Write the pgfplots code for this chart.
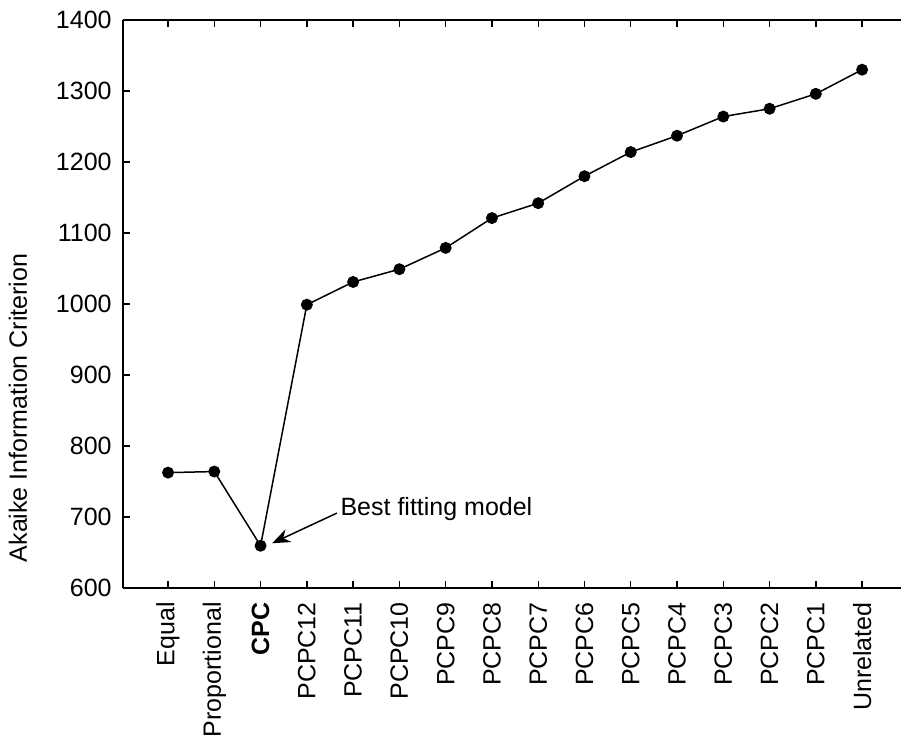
\documentclass[border=0pt]{standalone}
\usepackage{fontspec}
\setmainfont{Liberation Sans}
\usepackage{pgfplots}
\pgfplotsset{compat=1.18}
\usetikzlibrary{arrows.meta}
\newcommand{\chartfont}{\fontsize{12.5}{15}\selectfont}
\begin{document}
\begin{tikzpicture}
\begin{axis}[
  at={(0,0)}, anchor=south west,
  scale only axis,
  width=389pt, height=284pt,
  xmin=-0.973, xmax=15.84,
  ymin=600, ymax=1400,
  ytick={600,700,...,1400},
  xtick={0,...,15},
  xticklabels={Equal,Proportional,\textbf{CPC},PCPC12,PCPC11,PCPC10,PCPC9,PCPC8,PCPC7,PCPC6,PCPC5,PCPC4,PCPC3,PCPC2,PCPC1,Unrelated},
  axis x line=box,
  axis y line*=left,
  axis line style={-, line width=0.8pt},
  tick align=inside,
  major tick length=3.5pt,
  tick style={line width=0.7pt, black},
  xticklabel style={rotate=90, anchor=east, inner sep=0pt, font=\chartfont},
  xticklabel shift=7pt,
  yticklabel style={inner sep=0pt, anchor=east, font=\chartfont},
  yticklabel shift=5.5pt,
  /pgf/number format/assume math mode=true,
  /pgf/number format/1000 sep={},
  ylabel={Akaike Information Criterion},
  every axis y label/.style={at={(axis description cs:-0.135,0.317)}, rotate=90, anchor=center, font=\chartfont},
  clip=false,
]
\addplot[black, line width=0.75pt, mark=*, mark size=2.6pt, mark options={fill=black}] coordinates {
 (0,762.5) (1,764) (2,659.5) (3,999) (4,1031) (5,1049) (6,1079) (7,1121) (8,1142) (9,1180) (10,1214) (11,1237) (12,1264) (13,1275) (14,1296) (15,1330)
};
\draw[-{Stealth[length=9pt,width=7pt]}, line width=0.75pt] (axis cs:3.65,705.5) -- (axis cs:2.25,663);
\node[anchor=west, inner sep=0pt, font=\chartfont] at (axis cs:3.72,711) {Best fitting model};
\end{axis}
\pgfresetboundingbox
\path (-61.5pt,-75pt) rectangle (389pt,294pt);
\end{tikzpicture}
\end{document}
